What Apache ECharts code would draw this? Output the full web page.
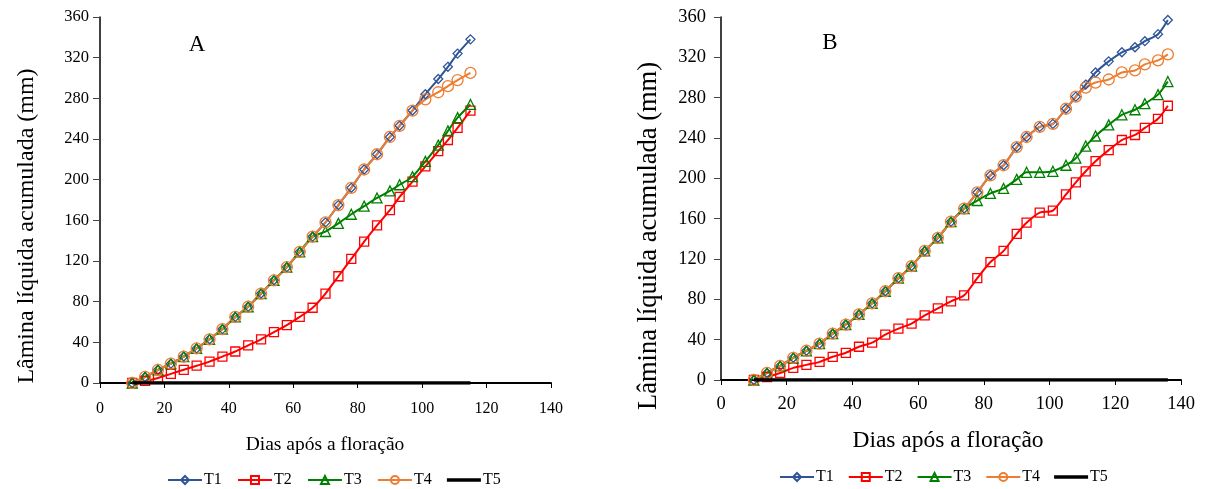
<!DOCTYPE html>
<html>
<head>
<meta charset="utf-8">
<script src="https://cdn.jsdelivr.net/npm/echarts@6/dist/echarts.min.js"></script>
<style>
  html, body { margin: 0; padding: 0; background: #fff; }
  #chart { width: 1206px; height: 489px; }
</style>
</head>
<body>
<div id="chart"></div>
<script>
// Days after flowering at each reading
const daysA = [10,14,18,22,26,30,34,38,42,46,50,54,58,62,66,70,74,78,82,86,90,93,97,101,105,108,111,115];
const daysB = [10,14,18,22,26,30,34,38,42,46,50,54,58,62,66,70,74,78,82,86,90,93,97,101,105,108,111,114,118,122,126,129,133,136];

// Panel A: accumulated net irrigation depth (mm)
const t1A = [0,6,13,19,26,34,43,53,65,75,88,101,114,129,144,158,175,192,210,225,242,253,268,284,299,311,324,338];
const t2A = [0,2,5,9,13,17,21,26,31,37,43,50,57,65,74,88,105,122,139,155,170,183,198,213,228,239,251,268];
const t3A = [0,6,13,19,26,34,43,53,65,75,88,101,114,129,144,149,157,166,174,182,189,195,203,218,234,248,261,274];
const t4A = [0,6,13,19,26,34,43,53,65,75,88,101,114,129,144,158,175,192,210,225,242,253,268,279,286,292,298,305];
const t5A = [0,0,0,0,0,0,0,0,0,0,0,0,0,0,0,0,0,0,0,0,0,0,0,0,0,0,0,0];

// Panel B: accumulated net irrigation depth (mm)
const t1B = [0,7,14,22,29,36,46,55,65,76,88,101,113,128,141,157,170,186,203,213,231,241,251,254,269,281,293,305,316,325,330,336,343,357];
const t2B = [0,3,7,12,15,18,23,27,33,37,45,51,56,64,71,78,84,101,117,128,145,156,166,168,184,196,207,217,228,238,243,250,259,272];
const t3B = [0,7,14,22,29,36,46,55,65,76,88,101,113,128,141,157,170,178,185,190,199,206,206,207,213,220,232,242,253,263,268,274,283,296];
const t4B = [0,7,14,22,29,36,46,55,65,76,88,101,113,128,141,157,170,186,203,213,231,241,251,254,269,281,290,295,298,305,307,313,317,323];
const t5B = [0,0,0,0,0,0,0,0,0,0,0,0,0,0,0,0,0,0,0,0,0,0,0,0,0,0,0,0,0,0,0,0,0,0];

const treatments = ['T1','T2','T3','T4','T5'];
const yTicks = { min: 0, max: 360, interval: 40 };
const xTicks = { min: 0, max: 140, interval: 20 };

const SERIF = '"Liberation Serif", "Times New Roman", serif';
const styles = {
  T1: { color: '#2F5597', symbol: 'diamond', size: 9 },
  T2: { color: '#FF0000', symbol: 'rect', size: 9 },
  T3: { color: '#008000', symbol: 'triangle', size: 10 },
  T4: { color: '#ED7D31', symbol: 'circle', size: 11 },
  T5: { color: '#000000', symbol: 'none', size: 0 }
};

function pairs(days, vals) { return days.map((d, i) => [d, vals[i]]); }

function makeSeries(name, days, vals, idx) {
  const s = styles[name];
  const isT5 = name === 'T5';
  return {
    name: name,
    type: 'line',
    xAxisIndex: idx,
    yAxisIndex: idx,
    data: pairs(days, vals),
    smooth: 0.25,
    symbol: s.symbol,
    symbolSize: s.size,
    showSymbol: !isT5,
    lineStyle: { color: s.color, width: isT5 ? 3.5 : 2 },
    itemStyle: isT5
      ? { color: s.color }
      : { color: 'rgba(255,255,255,0)', borderColor: s.color, borderWidth: 1.3 },
    emphasis: { disabled: true },
    animation: false,
    z: isT5 ? 5 : 3
  };
}

function xAxis(idx, fs, margin) {
  return {
    type: 'value', gridIndex: idx, min: xTicks.min, max: xTicks.max, interval: xTicks.interval,
    splitLine: { show: false },
    axisLine: { onZero: false, lineStyle: { color: '#000', width: 2 } },
    axisTick: { show: true, length: 5, lineStyle: { color: '#000' } },
    axisLabel: { color: '#000', fontFamily: SERIF, fontSize: fs, margin: margin }
  };
}
function yAxis(idx, fs, margin) {
  return {
    type: 'value', gridIndex: idx, min: yTicks.min, max: yTicks.max, interval: yTicks.interval,
    splitLine: { show: false },
    axisLine: { show: true, lineStyle: { color: '#000', width: 1.5 } },
    axisTick: { show: true, length: 7, lineStyle: { color: '#444' } },
    axisLabel: { color: '#000', fontFamily: SERIF, fontSize: fs, margin: margin }
  };
}

const series = [];
const setA = { T1: t1A, T2: t2A, T3: t3A, T4: t4A, T5: t5A };
const setB = { T1: t1B, T2: t2B, T3: t3B, T4: t4B, T5: t5B };
treatments.forEach(n => series.push(makeSeries(n, daysA, setA[n], 0)));
treatments.forEach(n => series.push(makeSeries(n, daysB, setB[n], 1)));

function legend(left, top, fs, gap) {
  return {
    data: treatments.map(n => n === 'T5' ? { name: n, icon: 'path://M0,0h34v3.5h-34z' } : n),
    left: left, top: top, itemWidth: 34, itemHeight: 10, itemGap: gap,
    selectedMode: false,
    textStyle: { color: '#000', fontFamily: SERIF, fontSize: fs, padding: [0, 0, 0, -3] }
  };
}

function txt(text, x, y, size, rot) {
  return {
    type: 'text', x: x, y: y, rotation: rot || 0,
    style: { text: text, fill: '#000', font: size + 'px ' + SERIF, textAlign: 'center', textVerticalAlign: 'middle' }
  };
}

const option = {
  backgroundColor: '#fff',
  animation: false,
  grid: [
    { left: 100, top: 17, width: 451, height: 366 },
    { left: 721, top: 17, width: 460, height: 363 }
  ],
  xAxis: [xAxis(0, 16, 18), xAxis(1, 18.5, 15)],
  yAxis: [yAxis(0, 16.5, 11), yAxis(1, 18.5, 15)],
  legend: [legend(162, 467, 16, 15.2), legend(774, 464, 16, 14)],
  series: series,
  graphic: [
    txt('A', 197, 45, 23),
    txt('B', 830, 43, 23),
    txt('Lâmina líquida acumulada (mm)', 27, 226, 24, Math.PI / 2),
    txt('Lâmina líquida acumulada (mm)', 649, 236, 26.5, Math.PI / 2),
    txt('Dias após a floração', 325, 445, 19.5),
    txt('Dias após a floração', 948, 441, 23.5)
  ]
};

const chart = echarts.init(document.getElementById('chart'), null, { renderer: 'canvas' });
chart.setOption(option);
</script>
</body>
</html>
